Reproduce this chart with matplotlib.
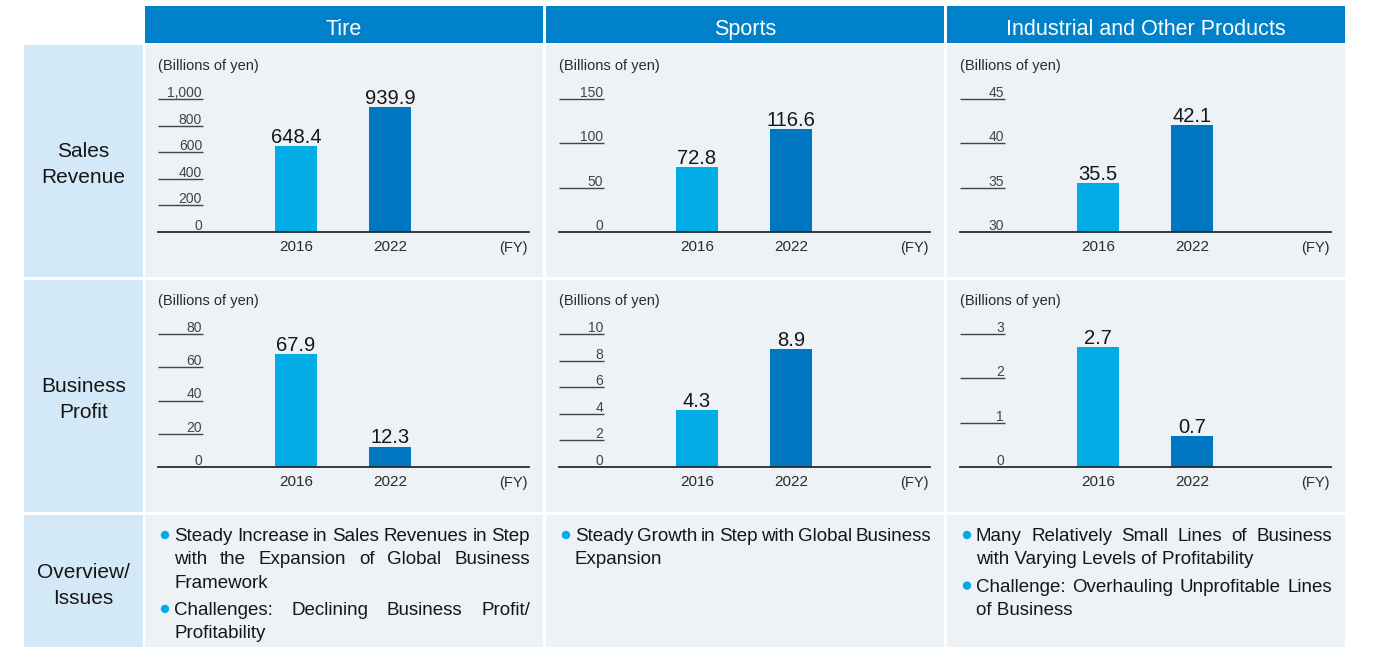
# Segment overview table: sales revenue and business profit per segment (FY2016 vs FY2022)

import matplotlib
matplotlib.use("Agg")
import matplotlib.pyplot as plt
from matplotlib.patches import Rectangle, Ellipse

# Data
segments = ["Tire", "Sports", "Industrial and Other Products"]
years = ["2016", "2022"]
sales_revenue = [[648.4, 939.9], [72.8, 116.6], [35.5, 42.1]]
business_profit = [[67.9, 12.3], [4.3, 8.9], [2.7, 0.7]]
sales_ticks = [[0, 200, 400, 600, 800, 1000], [0, 50, 100, 150], [30, 35, 40, 45]]
profit_ticks = [[0, 20, 40, 60, 80], [0, 2, 4, 6, 8, 10], [0, 1, 2, 3]]
row_labels = [["Sales", "Revenue"], ["Business", "Profit"], ["Overview/", "Issues"]]
unit_label = "(Billions of yen)"
fy_label = "(FY)"
# each bullet is a list of lines as broken in the original
overview = [
    [["Steady Increase in Sales Revenues in Step",
      "with the Expansion of Global Business",
      "Framework"],
     ["Challenges: Declining Business Profit/",
      "Profitability"]],
    [["Steady Growth in Step with Global Business",
      "Expansion"]],
    [["Many Relatively Small Lines of Business",
      "with Varying Levels of Profitability"],
     ["Challenge: Overhauling Unprofitable Lines",
      "of Business"]],
]

# Colours
header_blue = "#0081c9"
panel_bg = "#edf2f7"
label_bg = "#d4e9f7"
bar_colors = ["#00abe6", "#0078c1"]
bullet_color = "#00abe6"
text_dark = "#161616"

FONT = "Liberation Sans"

# Figure in pixel terms
W, H = 1386, 647
fig = plt.figure(figsize=(W / 100, H / 100), dpi=100)
fig.patch.set_facecolor("white")


def rect(x, y, w, h, color):
    fig.add_artist(Rectangle((x / W, 1 - (y + h) / H), w / W, h / H,
                             transform=fig.transFigure, facecolor=color,
                             edgecolor="none", zorder=-1))


def ftext(x, y, s, **kw):
    return fig.text(x / W, 1 - y / H, s, **kw)


col_left = [145, 546, 947]
col_w = 398
row_top = [45, 280, 515]
row_h = [232, 232, 132]

# Header row
for cl, name in zip(col_left, segments):
    rect(cl, 6, col_w, 37, header_blue)
    ftext(cl + col_w / 2, 35, name, color="white", fontsize=15.5, family=FONT,
          ha="center", va="baseline")

# Row label cells and panel backgrounds
label_baselines = [[157, 183], [392, 417.5], [578, 604]]
for r in range(3):
    rect(24, row_top[r], 119, row_h[r], label_bg)
    for line, yb in zip(row_labels[r], label_baselines[r]):
        ftext(83.5, yb, line, color=text_dark, fontsize=15, family=FONT,
              ha="center", va="baseline")
    for cl in col_left:
        rect(cl, row_top[r], col_w, row_h[r], panel_bg)


# Bar charts
def draw_chart(cl, top, values, ticks):
    ax_left, ax_w = cl + 13, 371
    ax_top, ax_bot = top + 54, top + 187
    ax = fig.add_axes([ax_left / W, 1 - ax_bot / H, ax_w / W, (ax_bot - ax_top) / H])
    ax.set_facecolor("none")
    x = list(range(len(years)))
    ax.bar(x, values, width=0.457, color=bar_colors, zorder=2)
    ax.set_xlim(-1.468, 2.479)
    ax.set_ylim(ticks[0], ticks[-1])
    for s in ["left", "right", "top"]:
        ax.spines[s].set_visible(False)
    ax.spines["bottom"].set_color("#2b2b2b")
    ax.spines["bottom"].set_linewidth(1.3)
    ax.set_yticks([])
    ax.set_xticks(x)
    ax.set_xticklabels(years, fontsize=11, family=FONT, color="#2b2b2b")
    ax.tick_params(axis="x", length=0, pad=6)

    # short tick lines with labels sitting on top of them
    frac = 45 / ax_w
    ax.hlines(ticks[1:], 0, frac, transform=ax.get_yaxis_transform(),
              color="#444444", lw=1.0, clip_on=False)
    for t in ticks:
        ax.annotate(f"{t:,}", xy=(frac - 1 / ax_w, t), xycoords=("axes fraction", "data"),
                    xytext=(0, 1.5), textcoords="offset points", ha="right",
                    va="baseline", fontsize=10, family=FONT, color="#444444")

    # value labels
    for xi, v in zip(x, values):
        ax.annotate(f"{v:.1f}", xy=(xi, v), xytext=(0, 2.2), textcoords="offset points",
                    ha="center", va="baseline", fontsize=14.5, family=FONT,
                    color=text_dark)

    ax.annotate(fy_label, xy=(1, 0), xycoords="axes fraction", xytext=(-0.7, -14.4),
                textcoords="offset points", ha="right", va="baseline",
                fontsize=10.5, family=FONT, color="#2b2b2b")
    ftext(cl + 13, top + 25, unit_label, fontsize=10.5, family=FONT,
          color="#2b2b2b", ha="left", va="baseline")


for i, cl in enumerate(col_left):
    draw_chart(cl, row_top[0], sales_revenue[i], sales_ticks[i])
    draw_chart(cl, row_top[1], business_profit[i], profit_ticks[i])

# Overview text, justified like the original
renderer = fig.canvas.get_renderer()
TXT_SIZE = 13.5


def word_width(word):
    t = fig.text(0, 0, word, fontsize=TXT_SIZE, family=FONT)
    w = t.get_window_extent(renderer).width
    t.remove()
    return w


def line_out(x0, x1, yb, line, justify):
    words = line.split()
    if not justify or len(words) < 2:
        ftext(x0, yb, line, fontsize=TXT_SIZE, family=FONT, color=text_dark,
              ha="left", va="baseline")
        return
    widths = [word_width(w) for w in words]
    gap = (x1 - x0 - sum(widths)) / (len(words) - 1)
    xp = x0
    for w, wd in zip(words, widths):
        ftext(xp, yb, w, fontsize=TXT_SIZE, family=FONT, color=text_dark,
              ha="left", va="baseline")
        xp += wd + gap


for cl, bullets in zip(col_left, overview):
    x0, x1 = cl + 29, cl + 385
    yb = 541
    for lines in bullets:
        fig.add_artist(Ellipse(((cl + 20) / W, 1 - (yb - 6) / H), 8.4 / W, 8.4 / H,
                               transform=fig.transFigure, facecolor=bullet_color,
                               edgecolor="none"))
        for k, line in enumerate(lines):
            line_out(x0, x1, yb, line, justify=k < len(lines) - 1)
            yb += 23.3
        yb += 4

fig.savefig("out.png", dpi=100)
